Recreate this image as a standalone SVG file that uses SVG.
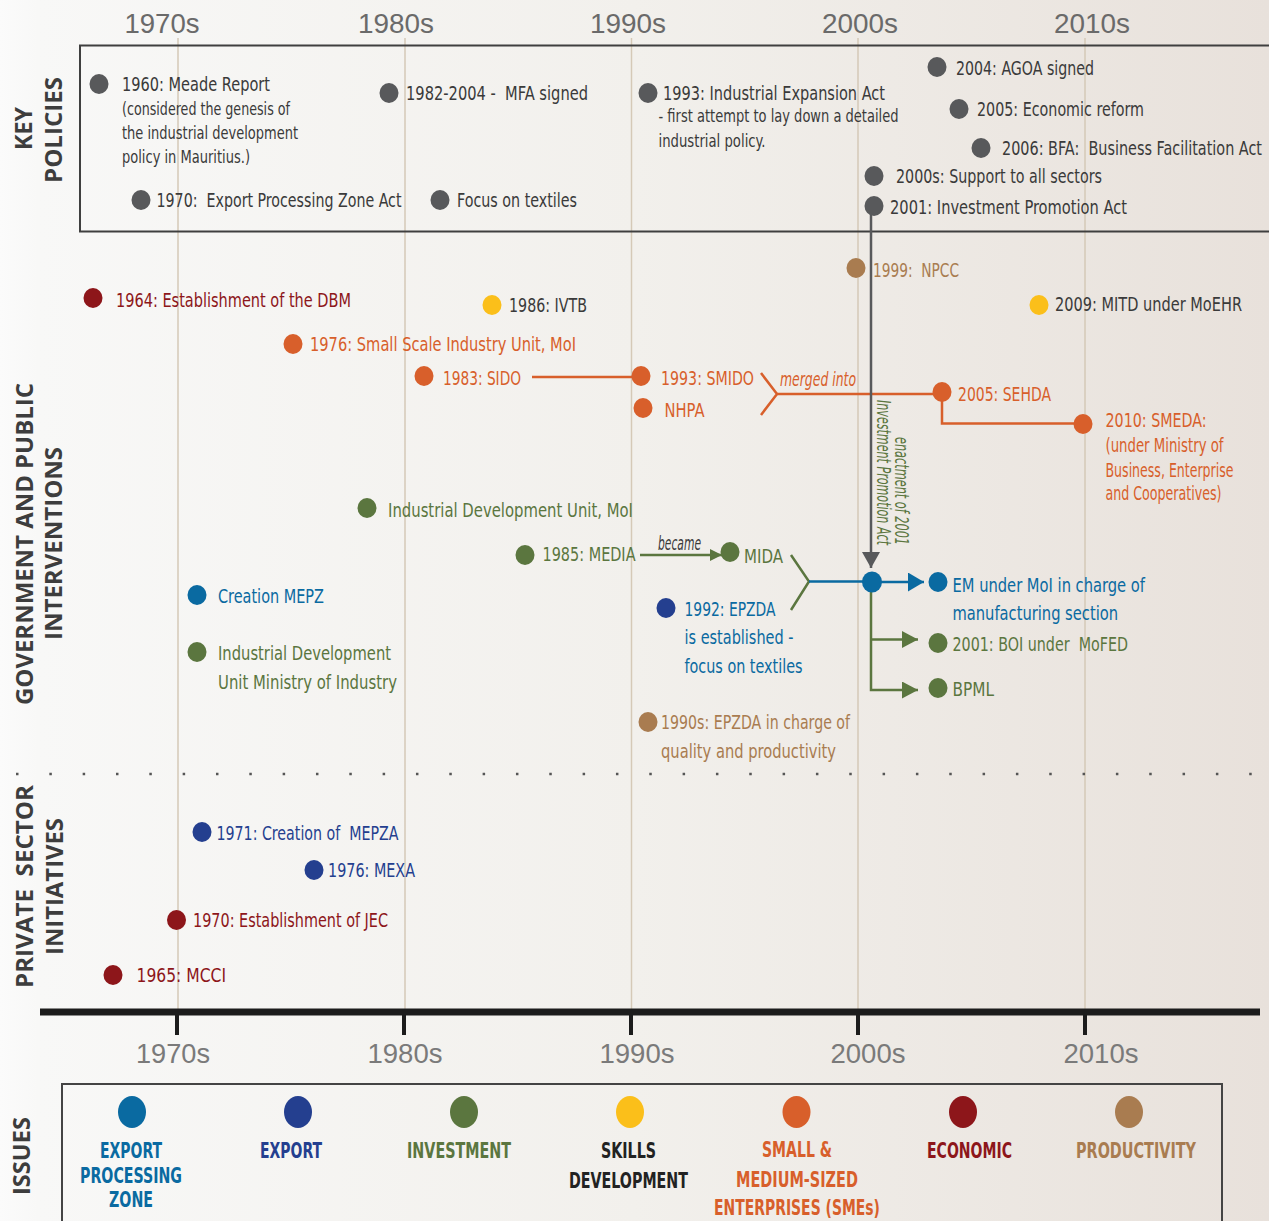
<svg xmlns="http://www.w3.org/2000/svg" width="1269" height="1221" viewBox="0 0 1269 1221">
<defs>
<linearGradient id="bg" x1="0" y1="0" x2="1" y2="0">
<stop offset="0" stop-color="#fbfbfb"/>
<stop offset="0.03" stop-color="#f8f8f7"/>
<stop offset="0.5" stop-color="#f2f0ec"/>
<stop offset="1" stop-color="#e8e1db"/>
</linearGradient>
<marker id="ag" viewBox="0 0 16 18" markerWidth="16" markerHeight="18" refX="16" refY="9" orient="auto" markerUnits="userSpaceOnUse"><path d="M0,0 L16,9 L0,18 z" fill="#58595b"/></marker>
<marker id="ab" viewBox="0 0 16 19" markerWidth="16" markerHeight="19" refX="16" refY="9.5" orient="auto" markerUnits="userSpaceOnUse"><path d="M0,0 L16,9.5 L0,19 z" fill="#0a6aa1"/></marker>
<marker id="agr" viewBox="0 0 16 17" markerWidth="16" markerHeight="17" refX="16" refY="8.5" orient="auto" markerUnits="userSpaceOnUse"><path d="M0,0 L16,8.5 L0,17 z" fill="#5b763f"/></marker>
<marker id="agrs" viewBox="0 0 12 12" markerWidth="12" markerHeight="12" refX="12" refY="6" orient="auto" markerUnits="userSpaceOnUse"><path d="M0,0 L12,6 L0,12 z" fill="#5b763f"/></marker>
</defs>
<style>
text{font-family:'Liberation Sans Narrow','DejaVu Sans Condensed','Liberation Sans',sans-serif;font-size:20px;white-space:pre}
.s{font-size:17px}
.it{font-style:italic}
.cat{font-family:'Open Sans','DejaVu Sans',sans-serif;font-weight:bold;font-size:24px;fill:#3d3d3d;text-anchor:middle}
.dec{font-family:'Liberation Sans','Open Sans',sans-serif;font-size:28px;text-anchor:middle}
.leg{font-weight:bold;font-size:21px;text-anchor:middle}
.grid{stroke:#d5c9b7;stroke-width:1.5}
.c{fill:none;stroke-width:2.5}
.tg{fill:#3a3a3a}.tr{fill:#8d161a}.to{fill:#d85f2b}.ty{fill:#3a3a3a}.tb{fill:#0a6aa1}.tn{fill:#243f8f}.tgr{fill:#5b763f}.tbr{fill:#a97c50}
.dg{fill:#58595b}.dr{fill:#8d161a}.do{fill:#d85f2b}.dy{fill:#fbbf1a}.db{fill:#0a6aa1}.dn{fill:#243f8f}.dgr{fill:#5b763f}.dbr{fill:#a97c50}
</style>
<rect width="1269" height="1221" fill="url(#bg)"/>

<g id="axes">
<line class="grid" x1="178" y1="38" x2="178" y2="1010"/>
<line class="grid" x1="405" y1="38" x2="405" y2="1010"/>
<line class="grid" x1="631.5" y1="38" x2="631.5" y2="1010"/>
<line class="grid" x1="858" y1="38" x2="858" y2="1010"/>
<line class="grid" x1="1085" y1="38" x2="1085" y2="1010"/>
<g fill="#6a6a6a">
<text class="dec" x="162" y="33" textLength="75" lengthAdjust="spacingAndGlyphs">1970s</text>
<text class="dec" x="396" y="33" textLength="76" lengthAdjust="spacingAndGlyphs">1980s</text>
<text class="dec" x="628" y="33" textLength="76" lengthAdjust="spacingAndGlyphs">1990s</text>
<text class="dec" x="860" y="33" textLength="76" lengthAdjust="spacingAndGlyphs">2000s</text>
<text class="dec" x="1092" y="33" textLength="76" lengthAdjust="spacingAndGlyphs">2010s</text>
</g>
<line x1="16" y1="774" x2="1252" y2="774" stroke="#555" stroke-width="2.5" stroke-dasharray="2.5 30.83"/>
<line x1="40" y1="1012" x2="1260" y2="1012" stroke="#1c1c1c" stroke-width="7"/>
<g stroke="#1c1c1c" stroke-width="4">
<line x1="177" y1="1012" x2="177" y2="1035"/>
<line x1="404" y1="1012" x2="404" y2="1035"/>
<line x1="631" y1="1012" x2="631" y2="1035"/>
<line x1="858" y1="1012" x2="858" y2="1035"/>
<line x1="1085" y1="1012" x2="1085" y2="1035"/>
</g>
<g fill="#7a7a7a">
<text class="dec" x="173" y="1063" textLength="74" lengthAdjust="spacingAndGlyphs">1970s</text>
<text class="dec" x="405" y="1063" textLength="75" lengthAdjust="spacingAndGlyphs">1980s</text>
<text class="dec" x="637" y="1063" textLength="75" lengthAdjust="spacingAndGlyphs">1990s</text>
<text class="dec" x="868" y="1063" textLength="75" lengthAdjust="spacingAndGlyphs">2000s</text>
<text class="dec" x="1101" y="1063" textLength="75" lengthAdjust="spacingAndGlyphs">2010s</text>
</g>
<rect x="80" y="45.5" width="1210" height="186" fill="none" stroke="#3f3f3f" stroke-width="2"/>
<rect x="62" y="1084" width="1160" height="160" fill="none" stroke="#444" stroke-width="2"/>
</g>

<g id="section-labels">
<text class="cat" transform="translate(32,128.5) rotate(-90)" textLength="43" lengthAdjust="spacingAndGlyphs">KEY</text>
<text class="cat" transform="translate(62,130) rotate(-90)" textLength="106" lengthAdjust="spacingAndGlyphs">POLICIES</text>
<text class="cat" transform="translate(33,544) rotate(-90)" textLength="322" lengthAdjust="spacingAndGlyphs">GOVERNMENT AND PUBLIC</text>
<text class="cat" transform="translate(62,543.5) rotate(-90)" textLength="193" lengthAdjust="spacingAndGlyphs">INTERVENTIONS</text>
<text class="cat" transform="translate(33,886.5) rotate(-90)" textLength="203" lengthAdjust="spacingAndGlyphs">PRIVATE  SECTOR</text>
<text class="cat" transform="translate(63,886.5) rotate(-90)" textLength="137" lengthAdjust="spacingAndGlyphs">INITIATIVES</text>
<text class="cat" transform="translate(30,1156) rotate(-90)" textLength="78" lengthAdjust="spacingAndGlyphs">ISSUES</text>
</g>

<g id="connectors">
<line class="c" stroke="#d85f2b" x1="532" y1="377" x2="641" y2="377"/>
<polyline class="c" stroke="#d85f2b" points="761,373 777,394 761,415"/>
<line class="c" stroke="#d85f2b" x1="777" y1="394" x2="942" y2="394"/>
<polyline class="c" stroke="#d85f2b" points="942,392 942,423.5 1083,423.5"/>
<text class="it to" x="780" y="386" font-size="16" textLength="76" lengthAdjust="spacingAndGlyphs">merged into</text>
<line class="c" stroke="#5b763f" x1="640" y1="555" x2="722" y2="555" marker-end="url(#agrs)"/>
<text class="it tg" x="658" y="550" font-size="15" textLength="43" lengthAdjust="spacingAndGlyphs">became</text>
<polyline class="c" stroke="#5b763f" points="791,555 809,581.5 791,610"/>
<line class="c" stroke="#0a6aa1" x1="809" y1="581.5" x2="872" y2="581.5"/>
<line class="c" stroke="#0a6aa1" stroke-width="3" x1="872" y1="582" x2="924" y2="582" marker-end="url(#ab)"/>
<polyline class="c" stroke="#5b763f" stroke-width="3" points="871,582 871,690 918,690" marker-end="url(#agr)"/>
<line class="c" stroke="#5b763f" stroke-width="3" x1="871" y1="639.5" x2="918" y2="639.5" marker-end="url(#agr)"/>
<line class="c" stroke="#58595b" x1="871" y1="212" x2="871" y2="568" marker-end="url(#ag)"/>
<text class="it tgr" transform="translate(877,545) rotate(90)" text-anchor="end" font-size="15" textLength="145" lengthAdjust="spacingAndGlyphs">Investment Promotion Act</text>
<text class="it tgr" transform="translate(895,545) rotate(90)" text-anchor="end" font-size="15" textLength="108" lengthAdjust="spacingAndGlyphs">enactment of 2001</text>
</g>

<g id="key-policies">
<g id="p-1960"><ellipse class="dg" cx="99" cy="84" rx="9.5" ry="10"/>
<text class="tg" x="122" y="91" textLength="148" lengthAdjust="spacingAndGlyphs">1960: Meade Report</text>
<text class="tg s" x="122" y="115" textLength="168" lengthAdjust="spacingAndGlyphs">(considered the genesis of</text>
<text class="tg s" x="122" y="139" textLength="176" lengthAdjust="spacingAndGlyphs">the industrial development</text>
<text class="tg s" x="122" y="163" textLength="128" lengthAdjust="spacingAndGlyphs">policy in Mauritius.)</text></g>
<g id="p-1970"><ellipse class="dg" cx="141" cy="200" rx="9.5" ry="10"/>
<text class="tg" x="156.5" y="207" textLength="245" lengthAdjust="spacingAndGlyphs">1970:  Export Processing Zone Act</text></g>
<g id="p-mfa"><ellipse class="dg" cx="389" cy="93" rx="9.5" ry="10"/>
<text class="tg" x="406" y="100" textLength="182" lengthAdjust="spacingAndGlyphs">1982-2004 -  MFA signed</text></g>
<g id="p-textiles"><ellipse class="dg" cx="440" cy="200" rx="9.5" ry="10"/>
<text class="tg" x="457" y="207" textLength="120" lengthAdjust="spacingAndGlyphs">Focus on textiles</text></g>
<g id="p-1993"><ellipse class="dg" cx="648" cy="93" rx="9.5" ry="10"/>
<text class="tg" x="663" y="100" textLength="222" lengthAdjust="spacingAndGlyphs">1993: Industrial Expansion Act</text>
<text class="tg s" x="658.5" y="122" textLength="240" lengthAdjust="spacingAndGlyphs">- first attempt to lay down a detailed</text>
<text class="tg s" x="658.5" y="146.5" textLength="107" lengthAdjust="spacingAndGlyphs">industrial policy.</text></g>
<g id="p-agoa"><ellipse class="dg" cx="937" cy="67" rx="9.5" ry="10"/>
<text class="tg" x="956" y="75" textLength="138" lengthAdjust="spacingAndGlyphs">2004: AGOA signed</text></g>
<g id="p-2005"><ellipse class="dg" cx="959" cy="109" rx="9.5" ry="10"/>
<text class="tg" x="977" y="116" textLength="167" lengthAdjust="spacingAndGlyphs">2005: Economic reform</text></g>
<g id="p-bfa"><ellipse class="dg" cx="981" cy="148" rx="9.5" ry="10"/>
<text class="tg" transform="translate(1002,155) scale(0.8,1)" textLength="325" lengthAdjust="spacingAndGlyphs">2006: BFA:  Business Facilitation Act</text></g>
<g id="p-2000s"><ellipse class="dg" cx="874" cy="176" rx="9.5" ry="10"/>
<text class="tg" x="896" y="183" textLength="206" lengthAdjust="spacingAndGlyphs">2000s: Support to all sectors</text></g>
<g id="p-ipa"><ellipse class="dg" cx="874" cy="206" rx="9.5" ry="10"/>
<text class="tg" x="890" y="214" textLength="237" lengthAdjust="spacingAndGlyphs">2001: Investment Promotion Act</text></g>
</g>

<g id="government">
<g id="g-dbm"><ellipse class="dr" cx="93" cy="298" rx="9.5" ry="10"/>
<text class="tr" x="116" y="307" textLength="235" lengthAdjust="spacingAndGlyphs">1964: Establishment of the DBM</text></g>
<g id="g-ivtb"><ellipse class="dy" cx="492" cy="305" rx="9.5" ry="10"/>
<text class="ty" x="509" y="311.5" textLength="78" lengthAdjust="spacingAndGlyphs">1986: IVTB</text></g>
<g id="g-ssiu"><ellipse class="do" cx="293" cy="344" rx="9.5" ry="10"/>
<text class="to" x="310" y="351" textLength="266" lengthAdjust="spacingAndGlyphs">1976: Small Scale Industry Unit, MoI</text></g>
<g id="g-sido"><ellipse class="do" cx="424" cy="376" rx="9.5" ry="10"/>
<text class="to" x="443" y="384.5" textLength="78" lengthAdjust="spacingAndGlyphs">1983: SIDO</text></g>
<g id="g-smido"><ellipse class="do" cx="641" cy="376" rx="9.5" ry="10"/>
<text class="to" x="661" y="384.5" textLength="93" lengthAdjust="spacingAndGlyphs">1993: SMIDO</text></g>
<g id="g-nhpa"><ellipse class="do" cx="643" cy="408" rx="9.5" ry="10"/>
<text class="to" x="664.5" y="417" textLength="40" lengthAdjust="spacingAndGlyphs">NHPA</text></g>
<g id="g-sehda"><ellipse class="do" cx="942" cy="392" rx="9.5" ry="10"/>
<text class="to" x="958" y="400.5" textLength="93" lengthAdjust="spacingAndGlyphs">2005: SEHDA</text></g>
<g id="g-smeda"><ellipse class="do" cx="1083" cy="424" rx="9.5" ry="10"/>
<text class="to" x="1105.5" y="427" textLength="101" lengthAdjust="spacingAndGlyphs">2010: SMEDA:</text>
<text class="to" x="1105.5" y="452" font-size="17.5" textLength="118" lengthAdjust="spacingAndGlyphs">(under Ministry of</text>
<text class="to" transform="translate(1105.5,476.5) scale(0.8,1)" font-size="17.5" textLength="160" lengthAdjust="spacingAndGlyphs">Business, Enterprise</text>
<text class="to" x="1105.5" y="499.5" font-size="17.5" textLength="116" lengthAdjust="spacingAndGlyphs">and Cooperatives)</text></g>
<g id="g-npcc"><ellipse class="dbr" cx="856" cy="268" rx="9.5" ry="10"/>
<text class="tbr" x="873" y="277" textLength="86" lengthAdjust="spacingAndGlyphs">1999:  NPCC</text></g>
<g id="g-mitd"><ellipse class="dy" cx="1039" cy="305" rx="9.5" ry="10"/>
<text class="ty" transform="translate(1055,311) scale(0.8,1)" textLength="233.75" lengthAdjust="spacingAndGlyphs">2009: MITD under MoEHR</text></g>
<g id="g-idu"><ellipse class="dgr" cx="367" cy="508" rx="9.5" ry="10"/>
<text class="tgr" x="388" y="517" textLength="245" lengthAdjust="spacingAndGlyphs">Industrial Development Unit, MoI</text></g>
<g id="g-media"><ellipse class="dgr" cx="525" cy="555" rx="9.5" ry="10"/>
<text class="tgr" x="542.5" y="561" textLength="93" lengthAdjust="spacingAndGlyphs">1985: MEDIA</text></g>
<g id="g-mida"><ellipse class="dgr" cx="730" cy="552" rx="9.5" ry="10"/>
<text class="tgr" x="744" y="563" textLength="39" lengthAdjust="spacingAndGlyphs">MIDA</text></g>
<g id="g-epzda"><ellipse class="dn" cx="666" cy="608" rx="9.5" ry="10"/>
<text class="tb" x="684.5" y="616" textLength="91" lengthAdjust="spacingAndGlyphs">1992: EPZDA</text>
<text class="tb" x="684.5" y="644" textLength="109" lengthAdjust="spacingAndGlyphs">is established -</text>
<text class="tb" x="684.5" y="672.5" textLength="118" lengthAdjust="spacingAndGlyphs">focus on textiles</text></g>
<g id="g-epzda-q"><ellipse class="dbr" cx="648" cy="722" rx="9.5" ry="10"/>
<text class="tbr" x="661" y="729" textLength="189" lengthAdjust="spacingAndGlyphs">1990s: EPZDA in charge of</text>
<text class="tbr" x="661" y="757.5" textLength="175" lengthAdjust="spacingAndGlyphs">quality and productivity</text></g>
<g id="g-merge"><ellipse class="db" cx="872" cy="582" rx="10" ry="10.5"/></g>
<g id="g-em"><ellipse class="db" cx="938" cy="582" rx="9.5" ry="10"/>
<text class="tb" x="952.5" y="591.5" textLength="192.5" lengthAdjust="spacingAndGlyphs">EM under MoI in charge of</text>
<text class="tb" x="952.5" y="620" textLength="165.5" lengthAdjust="spacingAndGlyphs">manufacturing section</text></g>
<g id="g-boi"><ellipse class="dgr" cx="938" cy="643" rx="9.5" ry="10"/>
<text class="tgr" x="952.5" y="650.5" textLength="175.5" lengthAdjust="spacingAndGlyphs">2001: BOI under  MoFED</text></g>
<g id="g-bpml"><ellipse class="dgr" cx="938" cy="688" rx="9.5" ry="10"/>
<text class="tgr" x="952.5" y="695.5" textLength="41.5" lengthAdjust="spacingAndGlyphs">BPML</text></g>
<g id="g-mepz"><ellipse class="db" cx="197" cy="595" rx="9.5" ry="10"/>
<text class="tb" x="218" y="603" textLength="106" lengthAdjust="spacingAndGlyphs">Creation MEPZ</text></g>
<g id="g-idu-mi"><ellipse class="dgr" cx="197" cy="652" rx="9.5" ry="10"/>
<text class="tgr" x="218" y="660" textLength="173" lengthAdjust="spacingAndGlyphs">Industrial Development</text>
<text class="tgr" x="218" y="689" textLength="179" lengthAdjust="spacingAndGlyphs">Unit Ministry of Industry</text></g>
</g>

<g id="private-sector">
<g id="ps-mepza"><ellipse class="dn" cx="202" cy="832" rx="9.5" ry="10"/>
<text class="tn" x="216.5" y="840" textLength="182" lengthAdjust="spacingAndGlyphs">1971: Creation of  MEPZA</text></g>
<g id="ps-mexa"><ellipse class="dn" cx="314" cy="870" rx="9.5" ry="10"/>
<text class="tn" x="328" y="877" textLength="87" lengthAdjust="spacingAndGlyphs">1976: MEXA</text></g>
<g id="ps-jec"><ellipse class="dr" cx="176.5" cy="920" rx="9.5" ry="10"/>
<text class="tr" x="193" y="927" textLength="195" lengthAdjust="spacingAndGlyphs">1970: Establishment of JEC</text></g>
<g id="ps-mcci"><ellipse class="dr" cx="113" cy="975" rx="9.5" ry="10"/>
<text class="tr" x="136.5" y="982" textLength="89.5" lengthAdjust="spacingAndGlyphs">1965: MCCI</text></g>
</g>

<g id="legend">
<g id="l-epz"><ellipse class="db" cx="132" cy="1112" rx="14" ry="16"/>
<text class="leg tb" x="131" y="1158" textLength="62" lengthAdjust="spacingAndGlyphs">EXPORT</text>
<text class="leg tb" x="131" y="1182.5" textLength="102" lengthAdjust="spacingAndGlyphs">PROCESSING</text>
<text class="leg tb" x="131" y="1207" textLength="44" lengthAdjust="spacingAndGlyphs">ZONE</text></g>
<g id="l-export"><ellipse class="dn" cx="298" cy="1112" rx="14" ry="16"/>
<text class="leg tn" x="291" y="1158" textLength="62" lengthAdjust="spacingAndGlyphs">EXPORT</text></g>
<g id="l-inv"><ellipse class="dgr" cx="464" cy="1112" rx="14" ry="16"/>
<text class="leg tgr" x="459" y="1158" textLength="104" lengthAdjust="spacingAndGlyphs">INVESTMENT</text></g>
<g id="l-skills"><ellipse class="dy" cx="630" cy="1112" rx="14" ry="16"/>
<text class="leg" fill="#222" x="628.5" y="1158" textLength="55" lengthAdjust="spacingAndGlyphs">SKILLS</text>
<text class="leg" fill="#222" x="628.5" y="1187.5" textLength="119" lengthAdjust="spacingAndGlyphs">DEVELOPMENT</text></g>
<g id="l-sme"><ellipse class="do" cx="796.5" cy="1112" rx="14" ry="16"/>
<text class="leg to" x="797" y="1157" textLength="70" lengthAdjust="spacingAndGlyphs">SMALL &amp;</text>
<text class="leg to" x="797" y="1186.5" textLength="122" lengthAdjust="spacingAndGlyphs">MEDIUM-SIZED</text>
<text class="leg to" x="797" y="1214.5" textLength="166" lengthAdjust="spacingAndGlyphs">ENTERPRISES (SMEs)</text></g>
<g id="l-econ"><ellipse class="dr" cx="963" cy="1112" rx="14" ry="16"/>
<text class="leg tr" x="969.5" y="1158" textLength="85" lengthAdjust="spacingAndGlyphs">ECONOMIC</text></g>
<g id="l-prod"><ellipse class="dbr" cx="1129" cy="1112" rx="14" ry="16"/>
<text class="leg tbr" x="1136" y="1158" textLength="120" lengthAdjust="spacingAndGlyphs">PRODUCTIVITY</text></g>
</g>
</svg>
